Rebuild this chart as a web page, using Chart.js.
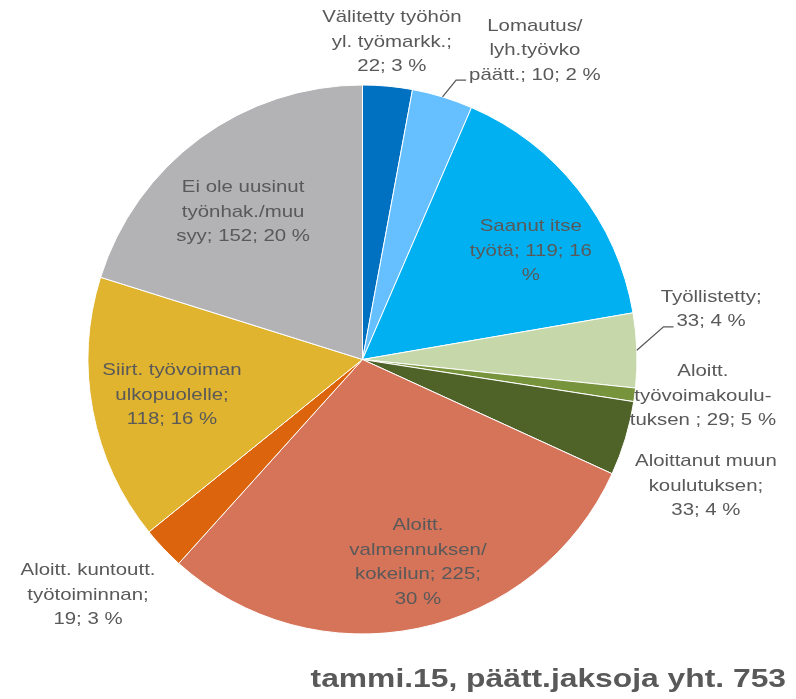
<!DOCTYPE html>
<html>
<head>
<meta charset="utf-8">
<script src="https://cdn.jsdelivr.net/npm/chart.js@4"></script>
<style>
  html, body { margin: 0; padding: 0; background: #fff; }
</style>
</head>
<body>
<canvas id="chart" width="796" height="699"></canvas>
<script>
// slice categories, clockwise from 12 o'clock
const categories = [
  'Välitetty työhön yl. työmarkk.',
  'Lomautus/lyh.työvko päätt.',
  'Saanut itse työtä',
  'Työllistetty',
  'Aloitt. työvoimakoulutuksen',
  'Aloittanut muun koulutuksen',
  'Aloitt. valmennuksen/kokeilun',
  'Aloitt. kuntoutt. työtoiminnan',
  'Siirt. työvoiman ulkopuolelle',
  'Ei ole uusinut työnhak./muu syy',
]
// slice sizes as drawn in the picture
const values = [22, 27, 119, 33, 6, 33, 225, 19, 118, 152]

// data label texts, as printed
const labelLines = [
  ['Välitetty työhön', 'yl. työmarkk.;', '22; 3 %'],
  ['Lomautus/', 'lyh.työvko', 'päätt.; 10; 2 %'],
  ['Saanut itse', 'työtä; 119; 16', '%'],
  ['Työllistetty;', '33; 4 %'],
  ['Aloitt.', 'työvoimakoulu-', 'tuksen ; 29; 5 %'],
  ['Aloittanut muun', 'koulutuksen;', '33; 4 %'],
  ['Aloitt.', 'valmennuksen/', 'kokeilun; 225;', '30 %'],
  ['Aloitt. kuntoutt.', 'työtoiminnan;', '19; 3 %'],
  ['Siirt. työvoiman', 'ulkopuolelle;', '118; 16 %'],
  ['Ei ole uusinut', 'työnhak./muu', 'syy; 152; 20 %'],
]
const title = 'tammi.15, päätt.jaksoja yht. 753'

const COLORS = [
  '#0070C0', '#66BFFF', '#00B0F0', '#C6D8AA', '#77933C',
  '#4F6228', '#D6745A', '#DC640C', '#E0B42E', '#B3B3B6',
]

// label centres relative to the pie centre, in units of the radius
const labelPos = [
  [0.107, -1.157], [0.628, -1.125], [0.613, -0.395], [1.270, -0.182],
  [1.240, 0.133], [1.251, 0.461], [0.202, 0.738], [-1.0, 0.858],
  [-0.694, 0.129], [-0.435, -0.537],
]
const leaders = [false, true, false, true, false, false, false, false, false, false]

const TEXT = '#595959'
const LINE = 24.5
const STRETCH = 1.2

function stretchedText(ctx, text, x, y) {
  ctx.save()
  ctx.translate(x, y)
  ctx.scale(STRETCH, 1)
  ctx.fillText(text, 0, 0)
  ctx.restore()
}

const labelPlugin = {
  id: 'sliceLabels',
  afterDatasetsDraw(chart) {
    const ctx = chart.ctx
    const arcs = chart.getDatasetMeta(0).data
    const cx = arcs[0].x
    const cy = arcs[0].y
    const r = arcs[0].outerRadius
    ctx.save()
    ctx.fillStyle = TEXT
    ctx.strokeStyle = TEXT
    ctx.lineWidth = 1.3
    ctx.font = '17px "Liberation Sans", Arial, sans-serif'
    ctx.textAlign = 'center'
    ctx.textBaseline = 'middle'
    labelLines.forEach((lines, i) => {
      const lx = cx + labelPos[i][0] * r
      const ly = cy + labelPos[i][1] * r
      const y0 = ly - ((lines.length - 1) * LINE) / 2
      lines.forEach((t, j) => stretchedText(ctx, t, lx, y0 + j * LINE))
      if (leaders[i]) {
        const a = arcs[i]
        const mid = (a.startAngle + a.endAngle) / 2
        const ex = cx + Math.cos(mid) * r
        const ey = cy + Math.sin(mid) * r
        const last = lines[lines.length - 1]
        const w = ctx.measureText(last).width * STRETCH
        const tx = lx - w / 2 - 3
        const ty = y0 + (lines.length - 1) * LINE + 5
        ctx.beginPath()
        ctx.moveTo(ex, ey)
        ctx.lineTo(tx - 10, ty)
        ctx.lineTo(tx, ty)
        ctx.stroke()
      }
    })
    ctx.font = 'bold 26.5px "Liberation Sans", Arial, sans-serif'
    ctx.textAlign = 'right'
    ctx.save()
    ctx.translate(chart.width - 10, 680)
    ctx.scale(STRETCH, 1)
    ctx.fillText(title, 0, 0)
    ctx.restore()
    ctx.restore()
  },
}

new Chart(document.getElementById('chart'), {
  type: 'pie',
  data: {
    labels: categories,
    datasets: [
      {
        data: values,
        backgroundColor: COLORS,
        borderColor: '#ffffff',
        borderWidth: 1,
        hoverOffset: 0,
        offset: 0,
      },
    ],
  },
  options: {
    responsive: false,
    animation: false,
    events: [],
    layout: { padding: { top: 84.5, bottom: 64.5, left: 87.5, right: 158.5 } },
    plugins: {
      legend: { display: false },
      tooltip: { enabled: false },
      title: { display: false },
    },
  },
  plugins: [labelPlugin],
})
</script>
</body>
</html>
